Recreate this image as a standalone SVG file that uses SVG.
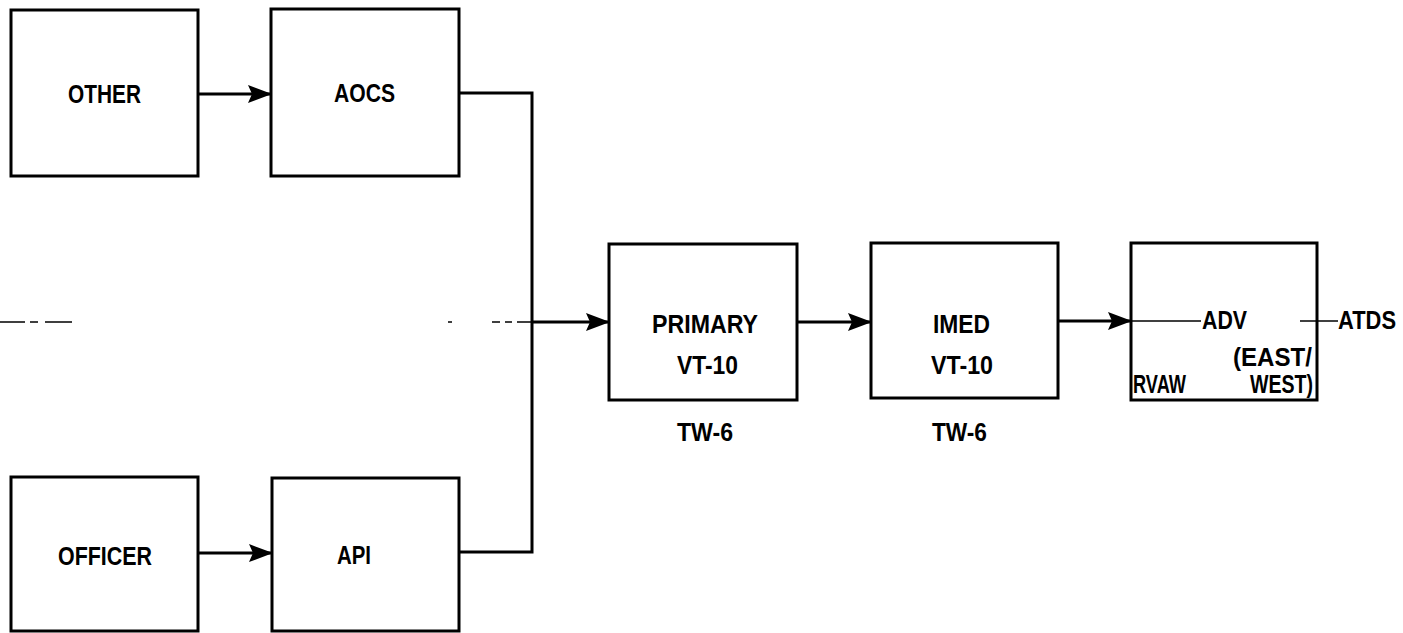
<svg xmlns="http://www.w3.org/2000/svg" width="1403" height="633" viewBox="0 0 1403 633">
  <style>
    .box { fill: none; stroke: #000; stroke-width: 3; }
    .conn { fill: none; stroke: #000; stroke-width: 3; }
    .faint { fill: none; stroke: #000; stroke-width: 1.5; }
    .lbl { font-family: "Liberation Sans", Arial, sans-serif; font-weight: bold; font-size: 25px; fill: #000; }
  </style>
  <defs>
    <marker id="arrow" markerUnits="userSpaceOnUse" markerWidth="24" markerHeight="18" refX="23" refY="9" orient="auto">
      <path d="M0,0 L24,9 L0,18 L4,9 z" fill="#000"/>
    </marker>
  </defs>
  <rect width="1403" height="633" fill="#fff"/>

  <g id="connectors">
    <line class="conn" x1="198" y1="94" x2="271" y2="94" marker-end="url(#arrow)"/>
    <line class="conn" x1="198" y1="553" x2="272" y2="553" marker-end="url(#arrow)"/>
    <polyline class="conn" points="459,93 532,93 532,552 459,552"/>
    <line class="conn" x1="532" y1="322" x2="609" y2="322" marker-end="url(#arrow)"/>
    <line class="conn" x1="797" y1="322" x2="871" y2="322" marker-end="url(#arrow)"/>
    <line class="conn" x1="1058" y1="321" x2="1131" y2="321" marker-end="url(#arrow)"/>
    <line class="faint" x1="1131" y1="321" x2="1201" y2="321"/>
    <line class="faint" x1="1300" y1="321" x2="1338" y2="321"/>
    <path class="faint" d="M0,322 H25 M30,322 H38 M45,322 H72 M448,322 H452 M492,322 H500 M505,322 H512 M517,322 H532"/>
  </g>

  <g id="other">
    <rect class="box" x="11" y="10" width="187" height="166"/>
    <text class="lbl" x="68" y="103" textLength="73" lengthAdjust="spacingAndGlyphs">OTHER</text>
  </g>
  <g id="aocs">
    <rect class="box" x="271" y="9" width="188" height="167"/>
    <text class="lbl" x="334" y="102" textLength="61" lengthAdjust="spacingAndGlyphs">AOCS</text>
  </g>
  <g id="officer">
    <rect class="box" x="11" y="477" width="187" height="154"/>
    <text class="lbl" x="58" y="565" textLength="94" lengthAdjust="spacingAndGlyphs">OFFICER</text>
  </g>
  <g id="api">
    <rect class="box" x="272" y="478" width="187" height="153"/>
    <text class="lbl" x="337" y="564" textLength="34" lengthAdjust="spacingAndGlyphs">API</text>
  </g>
  <g id="primary">
    <rect class="box" x="609" y="244" width="188" height="156"/>
    <text class="lbl" x="652" y="333" textLength="106" lengthAdjust="spacingAndGlyphs">PRIMARY</text>
    <text class="lbl" x="677" y="374" textLength="61" lengthAdjust="spacingAndGlyphs">VT-10</text>
    <text class="lbl" x="677" y="441" textLength="56" lengthAdjust="spacingAndGlyphs">TW-6</text>
  </g>
  <g id="imed">
    <rect class="box" x="871" y="243" width="187" height="155"/>
    <text class="lbl" x="933" y="333" textLength="57" lengthAdjust="spacingAndGlyphs">IMED</text>
    <text class="lbl" x="931" y="374" textLength="62" lengthAdjust="spacingAndGlyphs">VT-10</text>
    <text class="lbl" x="932" y="441" textLength="55" lengthAdjust="spacingAndGlyphs">TW-6</text>
  </g>
  <g id="adv">
    <rect class="box" x="1131" y="243" width="186" height="157"/>
    <text class="lbl" x="1202" y="329" textLength="45" lengthAdjust="spacingAndGlyphs">ADV</text>
    <text class="lbl" x="1233" y="366" textLength="79" lengthAdjust="spacingAndGlyphs">(EAST/</text>
    <text class="lbl" x="1133" y="393" textLength="53" lengthAdjust="spacingAndGlyphs">RVAW</text>
    <text class="lbl" x="1250" y="393" textLength="63" lengthAdjust="spacingAndGlyphs">WEST)</text>
  </g>
  <g id="atds">
    <text class="lbl" x="1338" y="329" textLength="58" lengthAdjust="spacingAndGlyphs">ATDS</text>
  </g>
</svg>
